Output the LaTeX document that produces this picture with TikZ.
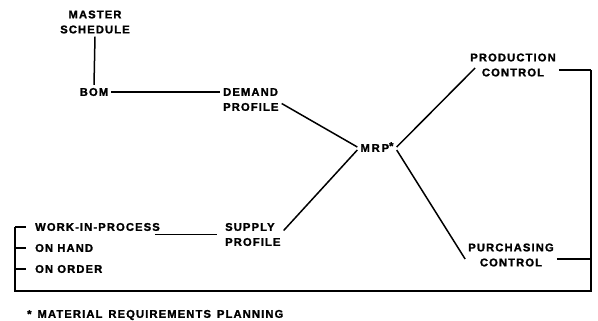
\documentclass[tikz,border=0pt]{standalone}
\usepackage{fontspec}
\setmainfont{Liberation Sans}[LetterSpace=10,BoldFeatures={FakeBold=1.5}]
\begin{document}
\begin{tikzpicture}[x=1pt,y=-1pt,
  lbl/.style={font=\fontsize{11.2}{15}\selectfont\bfseries, inner sep=3pt},
  conn/.style={line width=1.5pt},
  frame/.style={line width=2.4pt}]
\useasboundingbox (0,0) rectangle (598,321);
\node[lbl, align=center] (master) at (95,22) {MASTER\\SCHEDULE};
\node[lbl] (bom) at (94,92) {BOM};
\node[lbl, align=left, anchor=west] (demand) at (220,99.5) {DEMAND\\PROFILE};
\node[lbl] (mrp) at (377,147) {M\,R\,P\raisebox{2pt}{*}};
\node[lbl, align=center] (production) at (513,65) {PRODUCTION\\CONTROL};
\node[lbl, align=center] (purchasing) at (511,255) {PURCHASING\\CONTROL};
\node[lbl, align=left, anchor=west] (supply) at (222,234.5) {SUPPLY\\PROFILE};
\node[lbl, anchor=west] (wip) at (32,227) {WORK-IN-PROCESS};
\node[lbl, anchor=west] (onhand) at (32,248) {ON HAND};
\node[lbl, anchor=west] (onorder) at (32,269) {ON ORDER};
\node[lbl, anchor=west] (note) at (24,315) {*\hspace{6pt}MATERIAL\hspace{6pt}REQUIREMENTS\hspace{6pt}PLANNING};
\coordinate (lb) at (15,291);
\coordinate (rb) at (591,291);
% connectors
\draw[conn] (master.south) -- (bom.north);
\draw[conn] (bom.east) -- (bom.east -| demand.west);
\draw[conn] ([yshift=-4pt]demand.east) -- (mrp.west);
\draw[conn] ([yshift=4pt]supply.east) -- ([yshift=-3pt]mrp.west);
\draw[conn] (mrp.east) -- ([xshift=8pt,yshift=-3pt]production.west);
\draw[conn] ([yshift=-3pt]mrp.east) -- ([yshift=-4pt]purchasing.west);
\draw[conn] ([xshift=-8pt]wip.east |- supply.center) -- ([xshift=-5pt]supply.west);
\draw[conn] ([yshift=-5pt]production.east) -- ([yshift=-5pt]production.east -| rb);
\draw[conn] ([yshift=-4pt]purchasing.east) -- ([yshift=-4pt]purchasing.east -| rb);
\draw[frame] ([yshift=-5pt]production.east -| rb) -- (rb) -- (lb) -- (lb |- wip.west);
\draw[conn] (lb |- wip.west) -- ([xshift=-6pt]wip.west);
\draw[conn] (lb |- onhand.west) -- ([xshift=-6pt]onhand.west);
\draw[conn] (lb |- onorder.west) -- ([xshift=-6pt]onorder.west);
\end{tikzpicture}
\end{document}
